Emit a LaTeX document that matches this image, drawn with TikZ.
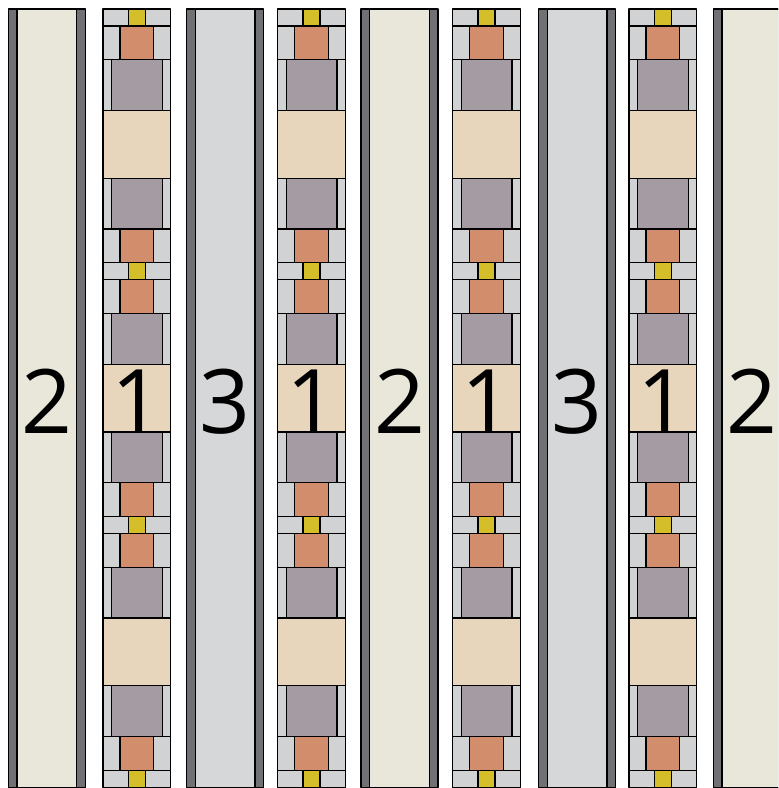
\documentclass[tikz,border=0pt]{standalone}
\usepackage{fontspec}
\setmainfont{Open Sans}
\usepackage{xcolor}
\usepackage{tikz}
\usetikzlibrary{calc}

\definecolor{stripgray}{HTML}{707174}
\definecolor{paneltwo}{HTML}{E9E7DA}
\definecolor{panelthree}{HTML}{D6D7D9}
\definecolor{cellgray}{HTML}{D1D2D4}
\definecolor{yellowcell}{HTML}{D4BF2A}
\definecolor{orangecell}{HTML}{D28E6C}
\definecolor{purplecell}{HTML}{A59BA3}
\definecolor{beigecell}{HTML}{E8D6BC}

\def\u{16.92}

\begin{document}
\begin{tikzpicture}[x=0.03cm, y=-0.03cm, line cap=round, line join=round,
		cell/.style={draw=black, line width=1.1pt},
		digit/.style={anchor=base, font=\fontsize{76}{76}\selectfont}]
				\useasboundingbox (0,0) rectangle (778,788);
				\clip (0,0) rectangle (778,788);
				% panels 2 and 3
				\foreach \px/\pc/\num [count=\i] in {8.3/paneltwo/2, 186.7/panelthree/3, 361/paneltwo/2, 538.7/panelthree/3, 713.3/paneltwo/2} {
					\draw[cell, fill=stripgray] (\px,9) rectangle ++(77,778.5);
					\draw[cell, fill=\pc] (\px+8.7,9) rectangle ++(59.6,778.5);
					\node[digit] (panel\i) at (\px+38.5,433) {\num};
				}
				% stacked columns 1
				\foreach \cx [count=\j] in {103, 277.7, 452.7, 629} {
					\foreach \k in {0,1,2} {
						\begin{scope}[shift={(\cx,{9+\k*15*\u})}]
							\foreach \ya/\yb/\ins/\clr in {0/1/1.5/yellowcell, 1/3/1/orangecell, 3/6/0.5/purplecell, 10/13/0.5/purplecell, 13/15/1/orangecell} {
								\draw[cell, fill=cellgray] (0,\ya*\u) rectangle (4*\u,\yb*\u);
								\draw[cell, fill=\clr] (\ins*\u,\ya*\u) rectangle ({(4-\ins)*\u},\yb*\u);
							}
							\draw[cell, fill=beigecell] (0,6*\u) rectangle (4*\u,10*\u);
						\end{scope}
					}
					\draw[cell, fill=cellgray] (\cx,{9+45*\u}) rectangle ({\cx+4*\u},{9+46*\u});
					\draw[cell, fill=yellowcell] ({\cx+1.5*\u},{9+45*\u}) rectangle ({\cx+2.5*\u},{9+46*\u});
					\node[digit] (stack\j) at (\cx+34,433) {1};
				}
			\end{tikzpicture}
\end{document}
